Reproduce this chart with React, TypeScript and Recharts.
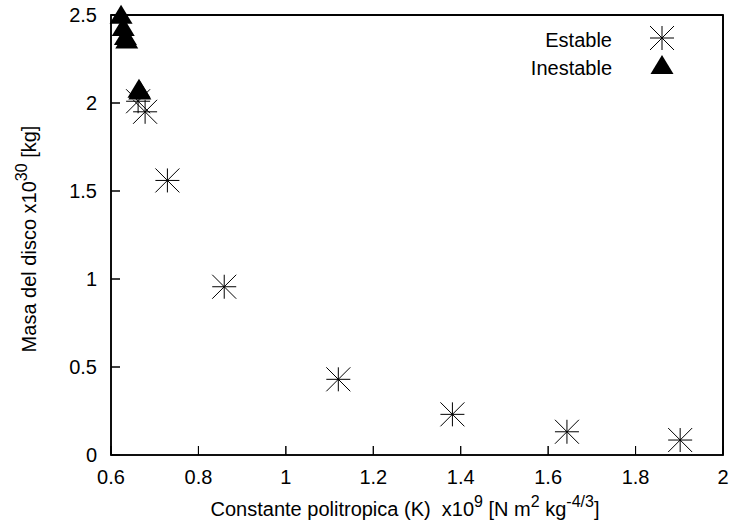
import React from "react";
import {
  ScatterChart,
  Scatter,
  XAxis,
  YAxis,
  Legend,
  Customized,
  ReferenceArea,
  ReferenceLine,
} from "recharts";

// ── Data ────────────────────────────────────────────────────────────────

const ESTABLE_K = [0.662, 0.678, 0.729, 0.859, 1.12, 1.381, 1.643, 1.902];
const ESTABLE_M = [2.01, 1.95, 1.56, 0.956, 0.43, 0.231, 0.132, 0.085];

const INESTABLE_K = [0.623, 0.628, 0.633, 0.636, 0.664, 0.666];
const INESTABLE_M = [2.49, 2.42, 2.37, 2.35, 2.07, 2.06];

const X_TICKS = [0.6, 0.8, 1, 1.2, 1.4, 1.6, 1.8, 2];
const Y_TICKS = [0, 0.5, 1, 1.5, 2, 2.5];

const SERIES_NAMES = ["Estable", "Inestable"];

const estable = ESTABLE_K.map((k, i) => ({ k, m: ESTABLE_M[i] }));
const inestable = INESTABLE_K.map((k, i) => ({ k, m: INESTABLE_M[i] }));

const X_DOMAIN: [number, number] = [0.6, 2];
const Y_DOMAIN: [number, number] = [0, 2.5];

const FONT = "'Liberation Sans', Arial, sans-serif";
const FS = 20;
const SUP = 16;

// plot box (left, top, width, height) and tick length in px
const BOX = { x: 111, y: 15, w: 612, h: 440 };
const TICK = 9;

const X_TICK_LEN = ((X_DOMAIN[1] - X_DOMAIN[0]) * TICK) / BOX.w;
const Y_TICK_LEN = ((Y_DOMAIN[1] - Y_DOMAIN[0]) * TICK) / BOX.h;

// ── Point shapes (gnuplot style) ─────────────────────────────────────────

function Asterisk({ cx, cy }: { cx: number; cy: number }) {
  const r = 12;
  return (
    <g stroke="#000" strokeWidth={1}>
      <line x1={cx - r} y1={cy} x2={cx + r} y2={cy} />
      <line x1={cx} y1={cy - r} x2={cx} y2={cy + r} />
      <line x1={cx - r} y1={cy - r} x2={cx + r} y2={cy + r} />
      <line x1={cx - r} y1={cy + r} x2={cx + r} y2={cy - r} />
    </g>
  );
}

function Triangle({ cx, cy }: { cx: number; cy: number }) {
  return (
    <path
      d={`M${cx},${cy - 12} L${cx + 11.5},${cy + 7} L${cx - 11.5},${cy + 7} Z`}
      fill="#000"
    />
  );
}

// ── Axis titles and border ───────────────────────────────────────────────

function AxisTitles() {
  const yx = 36;
  const yc = 239;
  const bottom = BOX.y + BOX.h;
  const px = (t: number) =>
    BOX.x + ((t - X_DOMAIN[0]) / (X_DOMAIN[1] - X_DOMAIN[0])) * BOX.w;
  const py = (t: number) =>
    bottom - ((t - Y_DOMAIN[0]) / (Y_DOMAIN[1] - Y_DOMAIN[0])) * BOX.h;
  return (
    <g>
      <rect
        x={BOX.x}
        y={BOX.y}
        width={BOX.w}
        height={BOX.h}
        fill="none"
        stroke="#000"
        strokeWidth={1.5}
      />
      <g stroke="#000" strokeWidth={1}>
        {X_TICKS.map((t) => (
          <line key={`bx${t}`} x1={px(t)} x2={px(t)} y1={bottom} y2={bottom - TICK} />
        ))}
        {Y_TICKS.map((t) => (
          <line key={`ly${t}`} x1={BOX.x} x2={BOX.x + TICK} y1={py(t)} y2={py(t)} />
        ))}
      </g>
      <g fontFamily={FONT} fontSize={FS} fill="#000">
        <text x={405} y={516} textAnchor="middle" style={{ whiteSpace: "pre" }}>
          <tspan>Constante politropica (K)  x10</tspan>
          <tspan dy={-9} fontSize={SUP}>9</tspan>
          <tspan dy={9}> [N m</tspan>
          <tspan dy={-9} fontSize={SUP}>2</tspan>
          <tspan dy={9}> kg</tspan>
          <tspan dy={-9} fontSize={SUP}>-4/3</tspan>
          <tspan dy={9}>]</tspan>
        </text>
        <text x={yx} y={yc} transform={`rotate(-90 ${yx} ${yc})`} textAnchor="middle">
          <tspan>Masa del disco x10</tspan>
          <tspan dy={-9} fontSize={SUP}>30</tspan>
          <tspan dy={9}> [kg]</tspan>
        </text>
      </g>
    </g>
  );
}

// ── Legend ───────────────────────────────────────────────────────────────

function KeyBox() {
  return (
    <svg width={210} height={64} style={{ display: "block" }}>
      <text x={132} y={23} textAnchor="end" fontFamily={FONT} fontSize={FS} fill="#000">
        {SERIES_NAMES[0]}
      </text>
      <Asterisk cx={182} cy={14} />
      <text x={132} y={51} textAnchor="end" fontFamily={FONT} fontSize={FS} fill="#000">
        {SERIES_NAMES[1]}
      </text>
      <Triangle cx={182} cy={43} />
    </svg>
  );
}

const tickStyle = { fontSize: FS, fill: "#000", fontFamily: FONT };
const axisLine = { stroke: "#000", strokeWidth: 1.5 };
const tickLine = { stroke: "#000", strokeWidth: 1 };
const blank = () => "";

export default function App() {
  return (
    <div style={{ position: "absolute", left: 0, top: 0 }}>
      <ScatterChart
        width={731}
        height={527}
        margin={{ top: 14, right: 7, bottom: 42, left: 51 }}
      >
        {/* tick labels */}
        <XAxis
          type="number"
          dataKey="k"
          domain={X_DOMAIN}
          ticks={X_TICKS}
          height={30}
          tick={tickStyle}
          tickSize={-9}
          tickMargin={24}
          axisLine={false}
          tickLine={false}
        />
        <YAxis
          type="number"
          dataKey="m"
          domain={Y_DOMAIN}
          ticks={Y_TICKS}
          width={60}
          tick={tickStyle}
          tickSize={-9}
          tickMargin={23}
          axisLine={false}
          tickLine={false}
        />
        {/* mirrored ticks on top and right */}
        <XAxis
          xAxisId="top"
          orientation="top"
          type="number"
          dataKey="k"
          domain={X_DOMAIN}
          ticks={X_TICKS}
          height={1}
          tickFormatter={blank}
          tickSize={-9}
          axisLine={axisLine}
          tickLine={tickLine}
        />
        <YAxis
          yAxisId="right"
          orientation="right"
          type="number"
          dataKey="m"
          domain={Y_DOMAIN}
          ticks={Y_TICKS}
          width={1}
          tickFormatter={blank}
          tickSize={-9}
          axisLine={axisLine}
          tickLine={tickLine}
        />
        <ReferenceArea
          x1={X_DOMAIN[0]}
          x2={X_DOMAIN[1]}
          y1={Y_DOMAIN[0]}
          y2={Y_DOMAIN[1]}
          fill="none"
          fillOpacity={0}
          stroke="#000"
          strokeWidth={1.5}
        />
        {X_TICKS.map((t) => (
          <ReferenceLine
            key={`xt${t}`}
            segment={[
              { x: t, y: Y_DOMAIN[0] },
              { x: t, y: Y_DOMAIN[0] + Y_TICK_LEN },
            ]}
            stroke="#000"
            strokeWidth={1}
          />
        ))}
        {Y_TICKS.map((t) => (
          <ReferenceLine
            key={`yt${t}`}
            segment={[
              { x: X_DOMAIN[0], y: t },
              { x: X_DOMAIN[0] + X_TICK_LEN, y: t },
            ]}
            stroke="#000"
            strokeWidth={1}
          />
        ))}
        <Legend
          layout="vertical"
          align="center"
          verticalAlign="middle"
          content={() => <KeyBox />}
          wrapperStyle={{ top: 24, left: 480, width: 210, height: 64 }}
        />
        <Scatter
          name={SERIES_NAMES[0]}
          data={estable}
          shape={(p: any) => <Asterisk cx={p.cx} cy={p.cy} />}
          isAnimationActive={false}
        />
        <Scatter
          name={SERIES_NAMES[1]}
          data={inestable}
          shape={(p: any) => <Triangle cx={p.cx} cy={p.cy} />}
          isAnimationActive={false}
        />
        <Customized component={AxisTitles} />
      </ScatterChart>
    </div>
  );
}
